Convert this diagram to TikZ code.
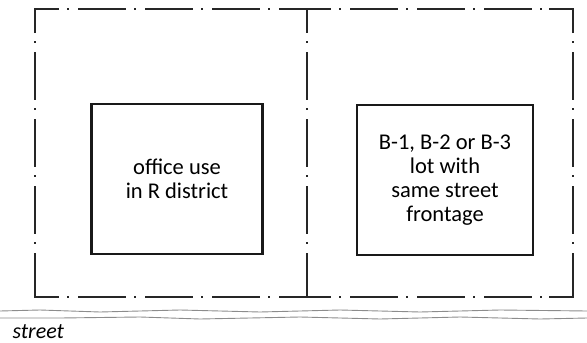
\documentclass[tikz,border=0pt]{standalone}
\usepackage{fontspec}
\setmainfont{Carlito}
\begin{document}
\begin{tikzpicture}[x=1pt,y=-1pt,
  lotline/.style={draw=black!85,line width=1.9pt,dash pattern=on 48pt off 8pt on 2pt off 9pt,dash phase=24pt},
  lotcorner/.style={draw=black!85,line width=1.9pt},
  usebox/.style={draw=black!90,line width=2.8pt,minimum width=171pt,minimum height=150pt,inner sep=0pt,
     align=center,font=\fontsize{22.5}{24}\selectfont,text=black},
  streetline/.style={draw=black!45,line width=0.9pt},
  lbl/.style={font=\fontsize{22}{24}\selectfont\itshape,text=black,anchor=west}]
\useasboundingbox (0,0) rectangle (587,343);
% lot lines
\coordinate (tl) at (35,9); \coordinate (tm) at (307,9); \coordinate (tr) at (573,9);
\coordinate (bl) at (35,297); \coordinate (bm) at (307,297); \coordinate (br) at (573,297);
\draw[lotline] (tl) -- (tm);
\draw[lotline] (tm) -- (tr);
\draw[lotline] (bl) -- (bm);
\draw[lotline] (bm) -- (br);
\draw[lotline] (tl) -- (bl);
\draw[lotline] (tm) -- (bm);
\draw[lotline] (tr) -- (br);
% corner stubs
\draw[lotcorner] ([yshift=-24]tl) -- (tl) -- ([xshift=24]tl);
\draw[lotcorner] ([yshift=-24]tr) -- (tr) -- ([xshift=-24]tr);
\draw[lotcorner] ([yshift=24]bl) -- (bl) -- ([xshift=24]bl);
\draw[lotcorner] ([yshift=24]br) -- (br) -- ([xshift=-24]br);
\draw[lotcorner] ([xshift=-24]tm) -- ([xshift=24]tm) (tm) -- ([yshift=-24]tm);
\draw[lotcorner] ([xshift=-24]bm) -- ([xshift=24]bm) (bm) -- ([yshift=24]bm);
% use boxes
\node[usebox] (office) at (177,179) {office use\\in R district};
\node[usebox,minimum width=176pt] (blot) at (445,180) {B-1, B-2 or B-3\\lot with\\same street\\frontage};
% street
\coordinate (s1a) at (0,311); \coordinate (s1b) at (587,311);
\coordinate (s2a) at (0,318); \coordinate (s2b) at (587,318);
\draw[streetline] (s1a) -- (40,310) -- (100,312) -- (180,310) -- (260,312) -- (340,310) -- (420,312) -- (500,310) -- (s1b);
\draw[streetline] (s2a) -- (60,318) -- (140,317) -- (200,319) -- (300,317) -- (380,319) -- (460,317) -- (540,319) -- (s2b);
\node[lbl] (street) at (9,332) {street};
\end{tikzpicture}
\end{document}
